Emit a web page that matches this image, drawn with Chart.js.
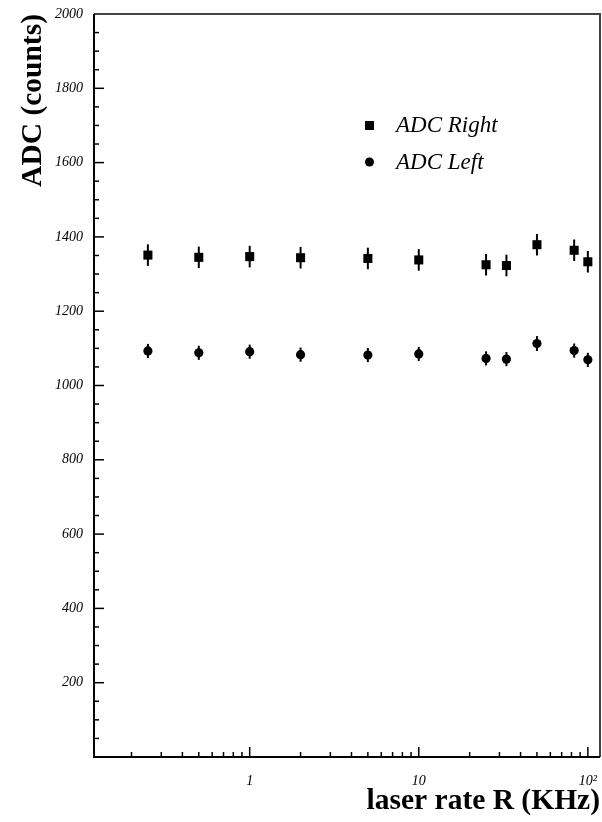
<!DOCTYPE html>
<html>
<head>
<meta charset="utf-8">
<script src="https://cdn.jsdelivr.net/npm/chart.js@4.4.0/dist/chart.umd.min.js"></script>
<style>
  html, body { margin: 0; padding: 0; background: #fff; }
  #wrap { width: 602px; height: 822px; }
</style>
</head>
<body>
<div id="wrap"><canvas id="chart" width="602" height="822"></canvas></div>
<script>
// laser rate in KHz
const rates = [0.25, 0.5, 1, 2, 5, 10, 25, 33, 50, 83, 100];
const adcRight = [1351, 1345, 1347, 1344, 1342, 1338, 1325, 1323, 1379, 1364, 1333];
const errRight = [29, 29, 29, 29, 29, 29, 29, 29, 29, 29, 29];
const adcLeft = [1093, 1088, 1091, 1083, 1082, 1085, 1073, 1071, 1113, 1094, 1069];
const errLeft = [19, 19, 19, 19, 19, 19, 19, 19, 20, 19, 19];

const xTicks = [0.2, 0.3, 0.4, 0.5, 0.6, 0.7, 0.8, 0.9,
  1, 2, 3, 4, 5, 6, 7, 8, 9,
  10, 20, 30, 40, 50, 60, 70, 80, 90, 100];
const xTickLabels = { 1: "1", 10: "10", 100: "10\u00B2" };
const yTickLabels = ["200", "400", "600", "800", "1000", "1200", "1400", "1600", "1800", "2000"];

const isDecade = (v) => Math.abs(Math.log10(v) - Math.round(Math.log10(v))) < 1e-9;

// ROOT style frame with inward ticks
const frameTicks = {
  id: "frameTicks",
  afterDraw(chart) {
    const { ctx, chartArea: a, scales } = chart;
    ctx.save();
    ctx.strokeStyle = "#000";
    ctx.lineWidth = 1.5;
    scales.y.ticks.forEach((t) => {
      const py = scales.y.getPixelForValue(t.value);
      const len = t.value % 200 === 0 ? 10 : 5;
      ctx.beginPath();
      ctx.moveTo(a.left, py);
      ctx.lineTo(a.left + len, py);
      ctx.stroke();
    });
    scales.x.ticks.forEach((t) => {
      const px = scales.x.getPixelForValue(t.value);
      const len = isDecade(t.value) ? 10 : 5;
      ctx.beginPath();
      ctx.moveTo(px, a.bottom);
      ctx.lineTo(px, a.bottom - len);
      ctx.stroke();
    });
    // top / right frame
    ctx.strokeStyle = "#444";
    ctx.lineWidth = 2;
    ctx.beginPath();
    ctx.moveTo(a.left, a.top);
    ctx.lineTo(a.right, a.top);
    ctx.lineTo(a.right, a.bottom);
    ctx.stroke();
    // axes
    ctx.strokeStyle = "#000";
    ctx.beginPath();
    ctx.moveTo(a.left, a.top);
    ctx.lineTo(a.left, a.bottom);
    ctx.lineTo(a.right, a.bottom);
    ctx.stroke();
    ctx.restore();
  },
};

const errorBars = {
  id: "errorBars",
  beforeDatasetsDraw(chart) {
    const { ctx, scales } = chart;
    ctx.save();
    ctx.strokeStyle = "#000";
    ctx.lineWidth = 2;
    chart.data.datasets.forEach((ds) => {
      ds.data.forEach((p, i) => {
        const px = scales.x.getPixelForValue(p.x);
        ctx.beginPath();
        ctx.moveTo(px, scales.y.getPixelForValue(p.y - ds.errors[i]));
        ctx.lineTo(px, scales.y.getPixelForValue(p.y + ds.errors[i]));
        ctx.stroke();
      });
    });
    ctx.restore();
  },
};

const legendBox = {
  id: "legendBox",
  afterDraw(chart) {
    const ctx = chart.ctx;
    ctx.save();
    ctx.fillStyle = "#000";
    ctx.fillRect(365, 121, 9, 9);
    ctx.beginPath();
    ctx.arc(369.5, 162, 4.5, 0, Math.PI * 2);
    ctx.fill();
    ctx.font = "italic 23px 'Liberation Serif', serif";
    ctx.textBaseline = "middle";
    ctx.fillText("ADC Right", 396, 126);
    ctx.fillText("ADC Left", 396, 163);
    ctx.restore();
  },
};

const tickFont = { family: "'Liberation Serif', serif", size: 14, style: "italic" };
const titleFont = { family: "'Liberation Serif', serif", size: 29.5, weight: "bold" };

new Chart(document.getElementById("chart"), {
  type: "scatter",
  data: {
    datasets: [
      {
        label: "ADC Right",
        data: rates.map((r, i) => ({ x: r, y: adcRight[i] })),
        errors: errRight,
        pointStyle: "rect",
        pointRadius: 6.4,
        backgroundColor: "#000",
        borderColor: "#000",
        borderWidth: 0,
      },
      {
        label: "ADC Left",
        data: rates.map((r, i) => ({ x: r, y: adcLeft[i] })),
        errors: errLeft,
        pointStyle: "circle",
        pointRadius: 4.6,
        backgroundColor: "#000",
        borderColor: "#000",
        borderWidth: 0,
      },
    ],
  },
  options: {
    responsive: false,
    animation: false,
    layout: { autoPadding: false, padding: { top: 14, right: 2, left: 0, bottom: 0 } },
    plugins: {
      legend: { display: false },
      tooltip: { enabled: false },
    },
    scales: {
      x: {
        type: "logarithmic",
        min: 0.12,
        max: 118,
        grid: { display: false, drawTicks: false },
        border: { display: false },
        afterBuildTicks: (scale) => {
          scale.ticks = xTicks.map((v) => ({ value: v }));
        },
        afterFit: (scale) => {
          scale.height = 65;
          scale.paddingLeft = 0;
          scale.paddingRight = 0;
        },
        ticks: {
          autoSkip: false,
          maxRotation: 0,
          padding: 16,
          color: "#000",
          font: tickFont,
          callback: (v) => xTickLabels[v] || "",
        },
        title: {
          display: true,
          text: "laser rate R (KHz)",
          align: "end",
          color: "#000",
          font: titleFont,
          padding: { top: 0, bottom: 3 },
        },
      },
      y: {
        min: 0,
        max: 2000,
        grid: { display: false, drawTicks: false },
        border: { display: false },
        afterFit: (scale) => {
          scale.width = 94;
          scale.paddingTop = 0;
          scale.paddingBottom = 0;
        },
        ticks: {
          stepSize: 50,
          autoSkip: false,
          padding: 11,
          color: "#000",
          font: tickFont,
          callback: (v) => (v % 200 === 0 && v > 0 ? yTickLabels[v / 200 - 1] : ""),
        },
        title: {
          display: true,
          text: "ADC (counts)",
          align: "end",
          color: "#000",
          font: titleFont,
          padding: { top: 16, bottom: 0 },
        },
      },
    },
  },
  plugins: [errorBars, frameTicks, legendBox],
});
</script>
</body>
</html>
